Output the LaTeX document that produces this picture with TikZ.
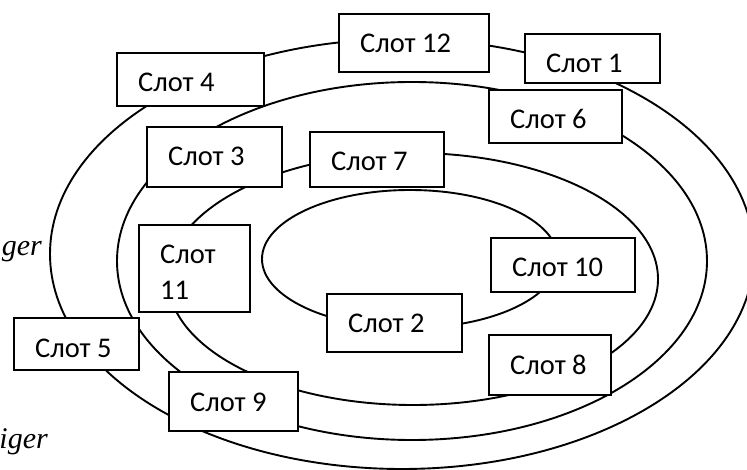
\documentclass[tikz,border=0pt]{standalone}
\usepackage{fontspec}
\usepackage{tikz}
\newfontfamily\slotfont{Carlito}
\newfontfamily\notefont{Liberation Serif}
\tikzset{
  ring/.style={
    line width=1.9pt
  },
  slotbox/.style={
    draw,
    fill=white,
    line width=1.9pt,
    anchor=north west,
    inner sep=0pt
  },
  slottext/.style={
    anchor=base west,
    inner sep=0pt,
    align=left,
    font=\slotfont\fontsize{28.5}{36}\selectfont
  },
  sidenote/.style={
    anchor=base east,
    inner sep=0pt,
    font=\notefont\itshape\fontsize{30}{36}\selectfont
  }
}

\begin{document}
\begin{tikzpicture}[x=1pt,y=-1pt]
    \useasboundingbox (0,0) rectangle (747,470);
    \clip (0,0) rectangle (747,470);

    % the four rings
    \draw[ring] (402,254) ellipse [x radius=352, y radius=215];
    \draw[ring] (412,261) ellipse [x radius=295, y radius=179];
    \draw[ring] (413,279) ellipse [x radius=245, y radius=126];
    \draw[ring] (410,259) ellipse [x radius=148, y radius=69];

    \node[sidenote] (note1) at (42,256) {ger};
    \node[sidenote] (note2) at (48,448) {iger};

    % slots
    \node[slotbox, minimum width=150pt, minimum height=58pt] (s12) at (338,13) {};
    \node[slottext] (s12text) at ([xshift=22pt,yshift=-40pt]s12.north west) {Слот 12};
    \node[slotbox, minimum width=135pt, minimum height=49pt] (s1) at (524,33) {};
    \node[slottext] (s1text) at ([xshift=22pt,yshift=-40pt]s1.north west) {Слот 1};
    \node[slotbox, minimum width=147pt, minimum height=53pt] (s4) at (116,52) {};
    \node[slottext] (s4text) at ([xshift=22pt,yshift=-40pt]s4.north west) {Слот 4};
    \node[slotbox, minimum width=133pt, minimum height=53pt] (s6) at (488,89) {};
    \node[slottext] (s6text) at ([xshift=22pt,yshift=-40pt]s6.north west) {Слот 6};
    \node[slotbox, minimum width=135pt, minimum height=60pt] (s3) at (146,126) {};
    \node[slottext] (s3text) at ([xshift=22pt,yshift=-40pt]s3.north west) {Слот 3};
    \node[slotbox, minimum width=134pt, minimum height=55pt] (s7) at (309,131) {};
    \node[slottext] (s7text) at ([xshift=22pt,yshift=-40pt]s7.north west) {Слот 7};
    \node[slotbox, minimum width=111pt, minimum height=87pt] (s11) at (138,224) {};
    \node[slottext] (s11text) at ([xshift=22pt,yshift=-76pt]s11.north west) {Слот\\11};
    \node[slotbox, minimum width=144pt, minimum height=54pt] (s10) at (490,237) {};
    \node[slottext] (s10text) at ([xshift=22pt,yshift=-40pt]s10.north west) {Слот 10};
    \node[slotbox, minimum width=135pt, minimum height=58pt] (s2) at (326,293) {};
    \node[slottext] (s2text) at ([xshift=22pt,yshift=-40pt]s2.north west) {Слот 2};
    \node[slotbox, minimum width=125pt, minimum height=52pt] (s5) at (13,317) {};
    \node[slottext] (s5text) at ([xshift=22pt,yshift=-40pt]s5.north west) {Слот 5};
    \node[slotbox, minimum width=122pt, minimum height=60pt] (s8) at (488,334) {};
    \node[slottext] (s8text) at ([xshift=22pt,yshift=-40pt]s8.north west) {Слот 8};
    \node[slotbox, minimum width=129pt, minimum height=59pt] (s9) at (168,371) {};
    \node[slottext] (s9text) at ([xshift=22pt,yshift=-40pt]s9.north west) {Слот 9};
\end{tikzpicture}
\end{document}
